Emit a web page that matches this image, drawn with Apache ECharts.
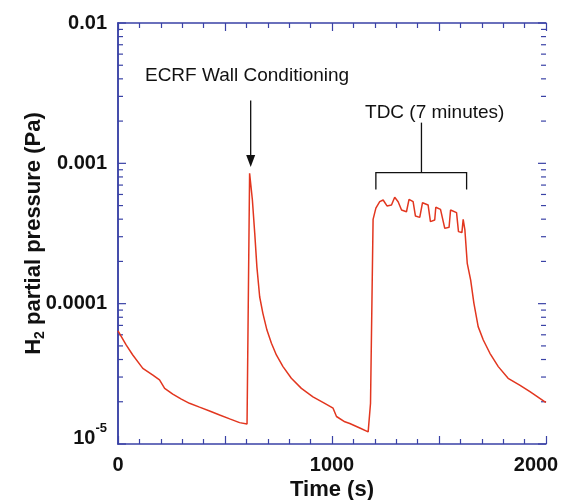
<!DOCTYPE html>
<html>
<head>
<meta charset="utf-8">
<script src="https://cdn.jsdelivr.net/npm/echarts@6/dist/echarts.min.js"></script>
<style>
  html, body { margin: 0; padding: 0; background: #fff; }
  #chart { width: 563px; height: 500px; }
</style>
</head>
<body>
<div id="chart"></div>
<script>
// ===== Data =====
const timeS = [
  0, 38, 69, 116, 163, 194, 218, 256, 296, 334, 381, 428, 475, 522, 568, 603, 609,
  615, 628, 639, 649, 662, 677, 696, 717, 740, 771, 810, 857, 911, 966, 1005, 1021,
  1060, 1083, 1130, 1169, 1180,
  1192, 1205, 1223, 1239, 1247, 1257, 1278, 1293, 1309, 1325, 1348, 1360, 1379, 1390,
  1410, 1423, 1449, 1460, 1480, 1485, 1507, 1527, 1547, 1554, 1582, 1591, 1607, 1613,
  1621, 1632, 1648, 1663, 1683, 1707, 1738, 1777, 1823, 1877, 1925, 1995, 2000
];
const pressurePa = [
  6.4e-5, 5.08e-5, 4.31e-5, 3.46e-5, 3.10e-5, 2.86e-5, 2.49e-5, 2.27e-5, 2.09e-5, 1.95e-5,
  1.83e-5, 1.72e-5, 1.61e-5, 1.51e-5, 1.42e-5, 1.39e-5, 1.37e-5,
  8.49e-4, 5.48e-4, 3.17e-4, 1.83e-4, 1.12e-4, 8.53e-5, 6.48e-5, 5.22e-5, 4.31e-5, 3.56e-5,
  2.94e-5, 2.49e-5, 2.17e-5, 1.95e-5, 1.80e-5, 1.57e-5, 1.44e-5, 1.40e-5, 1.30e-5, 1.22e-5, 1.95e-5,
  3.99e-4, 4.79e-4, 5.33e-4, 5.48e-4, 5.33e-4, 4.97e-4, 5.05e-4, 5.73e-4, 5.33e-4, 4.65e-4,
  4.52e-4, 5.54e-4, 5.33e-4, 4.21e-4, 4.12e-4, 5.24e-4, 5.05e-4, 3.84e-4, 3.95e-4, 4.86e-4,
  4.70e-4, 3.44e-4, 3.50e-4, 4.65e-4, 4.45e-4, 3.26e-4, 3.21e-4, 3.99e-4, 3.35e-4,
  1.94e-4, 1.47e-4, 1.01e-4, 6.86e-5, 5.51e-5, 4.43e-5, 3.56e-5, 2.94e-5, 2.63e-5, 2.36e-5,
  2.00e-5, 1.98e-5
];

// ===== Tick labels / tick values =====
const xLabelValues = [0, 1000, 2000];
const yTickLabels = ['{e|10}{sup|-5}', '0.0001', '0.001', '0.01'];   // 1e-5 .. 1e-2
const yMajorTicks = [1e-5, 1e-4, 1e-3, 1e-2];
const yMinorTicks = [
  2e-5, 3e-5, 4e-5, 5e-5, 6e-5, 7e-5, 8e-5, 9e-5,
  2e-4, 3e-4, 4e-4, 5e-4, 6e-4, 7e-4, 8e-4, 9e-4,
  2e-3, 3e-3, 4e-3, 5e-3, 6e-3, 7e-3, 8e-3, 9e-3
];

// ===== Styles =====
const axisBlue = '#3a42a6';
const lineRed = '#e2361f';
const font = '"Liberation Sans", Arial, sans-serif';

const chart = echarts.init(document.getElementById('chart'));

const xCommon = {
  type: 'value', min: 0, max: 2000, interval: 500,
  axisLine: { lineStyle: { color: axisBlue, width: 1.5 } },
  axisTick: { inside: true, length: 8, lineStyle: { color: axisBlue, width: 1.2 } },
  minorTick: { show: true, splitNumber: 5, length: 5, lineStyle: { color: axisBlue, width: 1.2 } },
  splitLine: { show: false }
};
const yCommon = {
  type: 'log', logBase: 10, min: 1e-5, max: 1e-2,
  axisLine: { lineStyle: { color: axisBlue, width: 1.5 } },
  axisTick: { show: false },
  minorTick: { show: false },
  splitLine: { show: false },
  minorSplitLine: { show: false }
};

chart.setOption({
  animation: false,
  grid: { left: 118, right: 17, top: 23, bottom: 56, outerBoundsMode: 'none' },
  xAxis: [
    Object.assign({}, xCommon, {
      position: 'bottom',
      axisLabel: {
        margin: 11, color: '#111', fontFamily: font, fontSize: 20, fontWeight: 'bold',
        formatter: v => {
          if (!xLabelValues.includes(v)) return '';
          return v === 2000 ? '{r|' + v + '}' : String(v);
        },
        rich: { r: { fontFamily: font, fontSize: 20, fontWeight: 'bold', color: '#111', padding: [0, 20, 0, 0] } }
      },
      name: 'Time (s)', nameLocation: 'middle', nameGap: 35, nameMoveOverlap: false,
      nameTextStyle: { color: '#111', fontFamily: font, fontSize: 22, fontWeight: 'bold' }
    }),
    Object.assign({}, xCommon, { position: 'top', axisLabel: { show: false } })
  ],
  yAxis: [
    Object.assign({}, yCommon, {
      position: 'left',
      axisLabel: {
        margin: 11, color: '#111', fontFamily: font, fontSize: 20, fontWeight: 'bold',
        formatter: v => yTickLabels[Math.round(Math.log10(v)) + 5] || '',
        rich: {
          e: { fontFamily: font, fontSize: 20, fontWeight: 'bold', color: '#111', padding: [0, 0, 12, 0] },
          sup: { fontFamily: font, fontSize: 13, fontWeight: 'bold', color: '#111', padding: [0, 0, 32, 0] }
        }
      },
      name: '{n|H}{sub|2}{n| partial pressure (Pa)}',
      nameLocation: 'middle', nameRotate: 90, nameGap: 71, nameMoveOverlap: false,
      nameTextStyle: {
        rich: {
          n: { fontFamily: font, fontSize: 22, fontWeight: 'bold', color: '#111' },
          sub: { fontFamily: font, fontSize: 14, fontWeight: 'bold', color: '#111', padding: [12, 0, 0, 0] }
        }
      }
    }),
    Object.assign({}, yCommon, { position: 'right', axisLabel: { show: false } })
  ],
  series: [
    {
      type: 'line',
      data: timeS.map((t, i) => [t, pressurePa[i]]),
      showSymbol: false,
      lineStyle: { color: lineRed, width: 1.5 },
      z: 3
    },
    // inward ticks of the log axes (left and right), majors and 2..9 minors
    {
      type: 'custom',
      data: yMajorTicks.map(v => [0, v, 8]).concat(yMinorTicks.map(v => [0, v, 5])),
      silent: true,
      renderItem: (params, api) => {
        const v = api.value(1);
        const len = api.value(2);
        const y = api.coord([0, v])[1];
        const cs = params.coordSys;
        const xl = cs.x, xr = cs.x + cs.width;
        const st = { stroke: axisBlue, lineWidth: 1.2 };
        return {
          type: 'group',
          children: [
            { type: 'line', shape: { x1: xl, y1: y, x2: xl + len, y2: y }, style: st },
            { type: 'line', shape: { x1: xr - len, y1: y, x2: xr, y2: y }, style: st }
          ]
        };
      }
    },
    // annotations
    {
      type: 'custom',
      data: [[0, 1e-3]],
      silent: true,
      renderItem: (params, api) => {
        const top = api.coord([620, 2.8e-3]);
        const tip = api.coord([620, 9.4e-4]);
        const ecrf = api.coord([603, 4.2e-3]);
        const tdc = api.coord([1480, 2.3e-3]);
        const stemTop = api.coord([1418, 1.95e-3]);
        const barL = api.coord([1205, 8.6e-4]);
        const barR = api.coord([1629, 8.6e-4]);
        const legY = api.coord([1205, 6.5e-4])[1];
        const ink = { stroke: '#111', lineWidth: 1.3, fill: null };
        const txt = (text, p) => ({
          type: 'text', x: p[0], y: p[1],
          style: { text, fontFamily: font, fontSize: 19, fill: '#111', align: 'center', verticalAlign: 'middle' }
        });
        return {
          type: 'group',
          children: [
            txt('ECRF Wall Conditioning', ecrf),
            { type: 'line', shape: { x1: top[0], y1: top[1], x2: tip[0], y2: tip[1] - 10 }, style: ink },
            { type: 'polygon', shape: { points: [[tip[0], tip[1]], [tip[0] - 4.5, tip[1] - 12], [tip[0] + 4.5, tip[1] - 12]] },
              style: { fill: '#111' } },
            txt('TDC (7 minutes)', tdc),
            { type: 'line', shape: { x1: stemTop[0], y1: stemTop[1], x2: stemTop[0], y2: barL[1] }, style: ink },
            { type: 'polyline', shape: { points: [[barL[0], legY], [barL[0], barL[1]], [barR[0], barR[1]], [barR[0], legY]] }, style: ink }
          ]
        };
      }
    }
  ]
});
</script>
</body>
</html>
